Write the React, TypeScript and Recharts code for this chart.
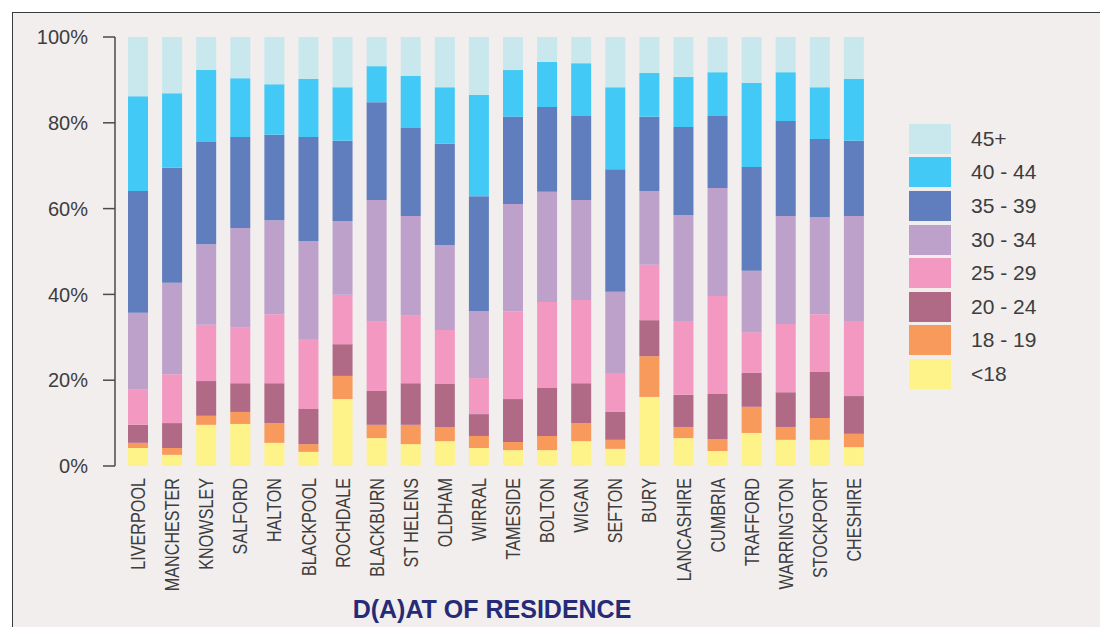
import React from 'react';
import { BarChart, Bar, XAxis, YAxis, Legend } from 'recharts';

// Share of residents by age band, %
const areas = [
  'LIVERPOOL', 'MANCHESTER', 'KNOWSLEY', 'SALFORD', 'HALTON', 'BLACKPOOL', 'ROCHDALE',
  'BLACKBURN', 'ST HELENS', 'OLDHAM', 'WIRRAL', 'TAMESIDE', 'BOLTON', 'WIGAN', 'SEFTON',
  'BURY', 'LANCASHIRE', 'CUMBRIA', 'TRAFFORD', 'WARRINGTON', 'STOCKPORT', 'CHESHIRE',
];

const under18 = [4.2, 2.6, 9.6, 9.8, 5.4, 3.3, 15.6, 6.5, 5.1, 5.8, 4.2, 3.7, 3.7, 5.8, 4.0, 16.1, 6.5, 3.5, 7.7, 6.1, 6.1, 4.4];
const age18to19 = [1.2, 1.6, 2.1, 2.8, 4.6, 1.8, 5.4, 3.1, 4.5, 3.3, 2.8, 1.9, 3.3, 4.2, 2.1, 9.5, 2.6, 2.8, 6.1, 3.0, 5.1, 3.1];
const age20to24 = [4.2, 5.8, 8.1, 6.7, 9.3, 8.2, 7.4, 7.9, 9.7, 10.0, 5.1, 10.0, 11.2, 9.3, 6.5, 8.4, 7.5, 10.5, 7.9, 8.1, 10.7, 8.8];
const age25to29 = [8.3, 11.4, 13.1, 12.9, 16.1, 16.3, 11.5, 16.1, 15.7, 12.6, 8.4, 20.5, 20.0, 19.4, 9.1, 12.9, 17.2, 22.8, 9.5, 15.9, 13.5, 17.5];
const age30to34 = [17.8, 21.3, 18.8, 23.3, 21.9, 22.8, 17.2, 28.4, 23.3, 19.8, 15.6, 25.0, 25.7, 23.3, 18.9, 17.2, 24.7, 25.2, 14.3, 25.2, 22.6, 24.5];
const age35to39 = [28.4, 26.8, 23.8, 21.2, 19.9, 24.3, 18.7, 22.8, 20.5, 23.6, 26.8, 20.3, 19.8, 19.6, 28.6, 17.3, 20.5, 16.8, 24.2, 22.1, 18.2, 17.5];
const age40to44 = [22.1, 17.4, 16.8, 13.7, 11.8, 13.5, 12.5, 8.4, 12.1, 13.2, 23.6, 10.9, 10.5, 12.3, 19.1, 10.2, 11.7, 10.2, 19.6, 11.4, 12.1, 14.4];
const age45plus = [13.8, 13.1, 7.7, 9.6, 11.0, 9.8, 11.7, 6.8, 9.1, 11.7, 13.5, 7.7, 5.8, 6.1, 11.7, 8.4, 9.3, 8.2, 10.7, 8.2, 11.7, 9.8];

const bandNames = ['<18', '18 - 19', '20 - 24', '25 - 29', '30 - 34', '35 - 39', '40 - 44', '45+'];
const bandValues = [under18, age18to19, age20to24, age25to29, age30to34, age35to39, age40to44, age45plus];
const bandColors = ['#fef388', '#f79a5c', '#b06a85', '#f399c1', '#bea1cb', '#607dbd', '#43c9f5', '#c8e8ed'];

const yTicks = [0, 0.2, 0.4, 0.6, 0.8, 1];

const data = areas.map((area, i) => {
  const row: Record<string, string | number> = { area };
  bandNames.forEach((name, b) => {
    row[name] = bandValues[b][i];
  });
  return row;
});

const AreaTick = (props: any) => {
  const { x, y, payload } = props;
  return (
    <text
      transform={`translate(${x},${y}) rotate(-90) scale(0.83,1)`}
      textAnchor="end"
      dy="0.36em"
      fill="#3d3d3d"
      fontSize={19.5}
      fontFamily="'Liberation Sans', Arial, sans-serif"
    >
      {payload.value}
    </text>
  );
};

const renderLegend = () => (
  <div style={{ fontFamily: "'Liberation Sans', Arial, sans-serif" }}>
    {bandNames
      .map((name, b) => ({ name, color: bandColors[b] }))
      .reverse()
      .map((item) => (
        <div key={item.name} style={{ display: 'flex', alignItems: 'center', height: 33.6 }}>
          <div style={{ width: 42, height: 30, background: item.color }} />
          <span style={{ marginLeft: 20, fontSize: 21, color: '#3d3d3d' }}>{item.name}</span>
        </div>
      ))}
  </div>
);

export default function App() {
  return (
    <div
      style={{
        position: 'absolute',
        left: 0,
        top: 0,
        width: 1100,
        height: 627,
        overflow: 'hidden',
        background: '#ffffff',
      }}
    >
      <div
        style={{
          position: 'absolute',
          left: 12,
          top: 12,
          width: 1200,
          height: 700,
          borderLeft: '1.5px solid #3a3a3a',
          borderTop: '1.5px solid #3a3a3a',
          background: '#f2eeed',
        }}
      />
      <div style={{ position: 'absolute', left: 0, top: 0 }}>
        <BarChart
          width={1100}
          height={627}
          data={data}
          stackOffset="expand"
          margin={{ top: 37, right: 229, bottom: 0, left: 0 }}
        >
          <XAxis
            dataKey="area"
            interval={0}
            axisLine={false}
            tickLine={false}
            tickSize={0}
            tickMargin={12}
            height={161}
            padding={{ left: 6, right: 0 }}
            tick={<AreaTick />}
          />
          <YAxis
            width={115}
            domain={[0, 1]}
            ticks={yTicks}
            tickFormatter={(v: number) => `${Math.round(v * 100)}%`}
            axisLine={{ stroke: '#4a4a4a', strokeWidth: 1.5 }}
            tickLine={{ stroke: '#4a4a4a', strokeWidth: 1.5 }}
            tickSize={12}
            tickMargin={15}
            tick={{ fill: '#3d3d3d', fontSize: 20, fontFamily: "'Liberation Sans', Arial, sans-serif" }}
          />
          <Legend
            layout="horizontal"
            align="center"
            verticalAlign="middle"
            content={renderLegend}
            wrapperStyle={{ left: 909, top: 122, width: 160 }}
          />
          {bandNames.map((name, b) => (
            <Bar
              key={name}
              dataKey={name}
              stackId="age"
              fill={bandColors[b]}
              barSize={20}
              isAnimationActive={false}
            />
          ))}
        </BarChart>
      </div>
      <div
        style={{
          position: 'absolute',
          left: 292,
          width: 400,
          top: 595,
          textAlign: 'center',
          fontFamily: "'Liberation Sans', Arial, sans-serif",
          fontWeight: 'bold',
          fontSize: 25,
          color: '#262b78',
          lineHeight: '28px',
        }}
      >
        D(A)AT OF RESIDENCE
      </div>
    </div>
  );
}
